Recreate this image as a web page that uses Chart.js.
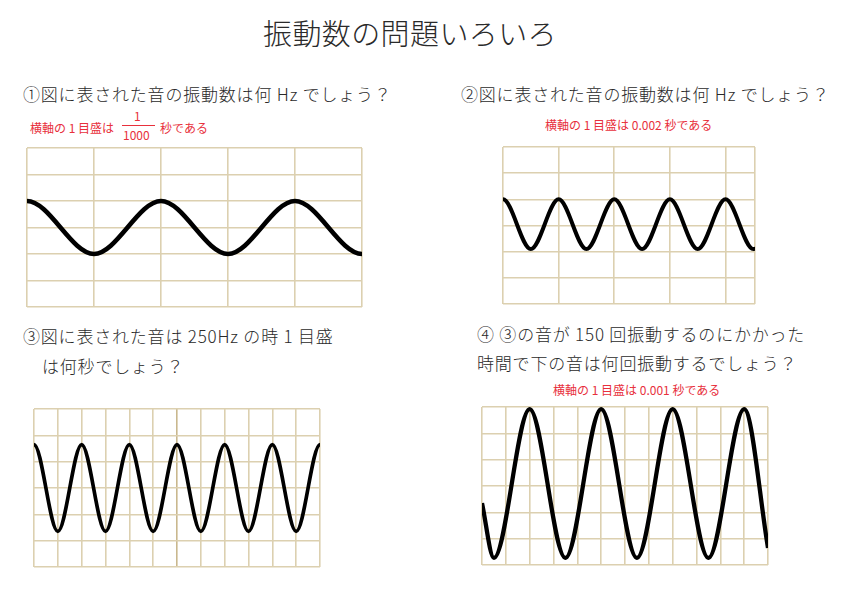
<!DOCTYPE html>
<html lang="ja">
<head>
<meta charset="utf-8">
<title>振動数の問題いろいろ</title>
<script src="https://cdn.jsdelivr.net/npm/chart.js@4.4.1/dist/chart.umd.min.js"></script>
<style>
    body {
        margin: 0;
        width: 842px;
        height: 595px;
        background: #fff;
        position: relative;
        overflow: hidden;
        font-family: "Noto Sans CJK JP", "Noto Sans", sans-serif;
    }
    .t {
        position: absolute;
        white-space: nowrap;
        color: #2a2a2a;
        font-weight: 300;
    }
    .title {
        font-size: 29px;
        line-height: 29px;
        letter-spacing: 0.4px;
        left: 263px;
        top: 18px;
    }
    .q {
        font-size: 17px;
        line-height: 17px;
        letter-spacing: 0.8px;
    }
    .r {
        font-size: 12px;
        line-height: 12px;
        color: #e8303c;
        font-weight: 400;
    }
    .frac-line {
        position: absolute;
        height: 0;
        border-top: 1px solid #e8303c;
    }
    canvas {
        position: absolute;
    }
</style>
</head>
<body>

<div class="t title">振動数の問題いろいろ</div>

<div class="t q" style="left:23px; top:85px">①図に表された音の振動数は何 Hz でしょう？</div>
<div class="t r" style="left:30px; top:122px">横軸の 1 目盛は</div>
<div class="t r" style="left:134px; top:110px">1</div>
<div class="frac-line" style="left:122px; top:125px; width:33px"></div>
<div class="t r" style="left:123px; top:129px">1000</div>
<div class="t r" style="left:160px; top:122px">秒である</div>

<div class="t q" style="left:461px; top:85px">②図に表された音の振動数は何 Hz でしょう？</div>
<div class="t r" style="left:545px; top:119px">横軸の 1 目盛は 0.002 秒である</div>

<div class="t q" style="left:23px; top:327px">③図に表された音は 250Hz の時 1 目盛</div>
<div class="t q" style="left:42px; top:357px">は何秒でしょう？</div>

<div class="t q" style="left:477px; top:325px">④ ③の音が 150 回振動するのにかかった</div>
<div class="t q" style="left:477px; top:354px">時間で下の音は何回振動するでしょう？</div>
<div class="t r" style="left:553px; top:384px">横軸の 1 目盛は 0.001 秒である</div>

<canvas id="scope1"></canvas>
<canvas id="scope2"></canvas>
<canvas id="scope3"></canvas>
<canvas id="scope4"></canvas>

<script>
/* =========================================================
   DATA (grid units: x = divisions, y = divisions from centre)
========================================================= */

// ① peaks and troughs, one per division
const wave1X = [-1, 0, 1, 2, 3, 4, 5, 6];
const wave1Y = [-1, 1, -1, 1, -1, 1, -1, 1];
const grid1X = [0, 1, 2, 3, 4, 5];

// ② one period per division
const wave2X = [-0.5, 0, 0.5, 1, 1.5, 2, 2.5, 3, 3.5, 4, 4.5, 5];
const wave2Y = [-0.9, 1, -0.9, 1, -0.9, 1, -0.9, 1, -0.9, 1, -0.9, 1];
const grid2X = [0, 1, 2, 3, 4, 4.53];

// ③ one period per two divisions
const wave3X = [-1, 0, 1, 2, 3, 4, 5, 6, 7, 8, 9, 10, 11, 12, 13];
const wave3Y = [-1.65, 1.65, -1.65, 1.65, -1.65, 1.65, -1.65, 1.65,
                -1.65, 1.65, -1.65, 1.65, -1.65, 1.65, -1.65];
const grid3X = [0, 1, 2, 3, 4, 5, 6, 7, 8, 9, 10, 11, 12];

// ④ one period per three divisions
const wave4X = [0, 0.5, 2, 3.5, 5, 6.5, 8, 9.5, 11, 12];
const wave4Y = [-0.65, -2.73, 2.92, -2.73, 2.92, -2.73, 2.92, -2.73, 2.92, -2.35];
const grid4X = [0, 1, 2, 3, 4, 5, 6, 7, 8, 9, 10, 11, 12];

const gridY = [-3, -2, -1, 0, 1, 2, 3];

/* =========================================================
   HELPERS
========================================================= */

const GRID = "#dcd0b0";
const GRID_STRONG = "#c9b88e";
const PAD = 4;

function scope(id, box, xs, ys, gridX, opts) {

    const canvas = document.getElementById(id);

    canvas.width = box.w + PAD * 2;
    canvas.height = box.h + PAD * 2;
    canvas.style.left = (box.x - PAD) + "px";
    canvas.style.top = (box.y - PAD) + "px";

    const points = xs.map((x, i) => ({ x, y: ys[i] }));

    return new Chart(canvas, {
        type: "line",

        data: {
            datasets: [{
                data: points,
                borderColor: "#000",
                borderWidth: opts.lineWidth,
                pointRadius: 0,
                cubicInterpolationMode: "monotone",
                clip: { left: 0, right: 0, top: 6, bottom: 6 }
            }]
        },

        options: {
            responsive: false,
            animation: false,
            devicePixelRatio: 1,
            layout: { padding: PAD },

            plugins: {
                legend: { display: false },
                tooltip: { enabled: false }
            },

            scales: {
                x: {
                    type: "linear",
                    min: gridX[0],
                    max: gridX[gridX.length - 1],
                    afterBuildTicks: axis => {
                        axis.ticks = gridX.map(v => ({ value: v }));
                    },
                    ticks: { display: false },
                    border: { display: false },
                    grid: {
                        drawTicks: false,
                        lineWidth: 1.6,
                        color: ctx =>
                            ctx.tick && ctx.tick.value === opts.strongX
                                ? GRID_STRONG
                                : GRID
                    }
                },

                y: {
                    type: "linear",
                    min: gridY[0],
                    max: gridY[gridY.length - 1],
                    afterBuildTicks: axis => {
                        axis.ticks = gridY.map(v => ({ value: v }));
                    },
                    ticks: { display: false },
                    border: { display: false },
                    grid: {
                        drawTicks: false,
                        lineWidth: 1.6,
                        color: GRID
                    }
                }
            }
        }
    });
}

/* =========================================================
   INIT
========================================================= */

scope("scope1", { x: 27, y: 148, w: 335, h: 159 },
    wave1X, wave1Y, grid1X, { lineWidth: 4.6 });

scope("scope2", { x: 503, y: 147, w: 252, h: 157 },
    wave2X, wave2Y, grid2X, { lineWidth: 4 });

scope("scope3", { x: 34, y: 409, w: 286, h: 158 },
    wave3X, wave3Y, grid3X, { lineWidth: 3.7, strongX: 6 });

scope("scope4", { x: 482, y: 407, w: 286, h: 158 },
    wave4X, wave4Y, grid4X, { lineWidth: 4.3 });
</script>
</body>
</html>
